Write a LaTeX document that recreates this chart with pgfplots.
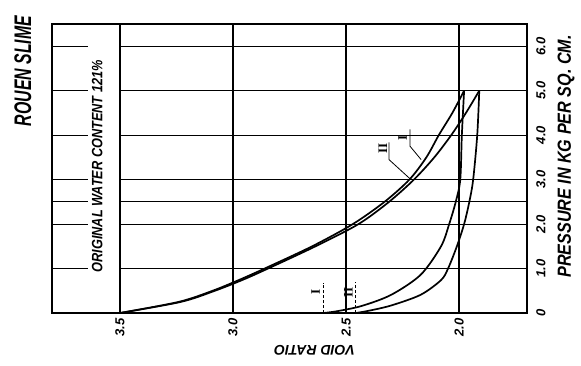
\documentclass[border=0pt]{standalone}
\usepackage{pgfplots}
\pgfplotsset{compat=1.18}
\usepackage{fontspec}
\setmainfont{Liberation Sans}
\newfontfamily\serifnum{Liberation Serif}
\begin{document}
\begin{tikzpicture}
\useasboundingbox (-52pt,-52pt) rectangle (529pt,313pt);
\begin{axis}[
  at={(0,0)}, anchor=south west,
  scale only axis, width=475pt, height=289pt,
  x dir=reverse, xmin=1.7, xmax=3.8, ymin=0, ymax=6.5,
  clip=false,
  axis line style={line width=1.6pt},
  xtick={2,2.5,3,3.5}, xticklabels={2.0,2.5,3.0,3.5},
  ytick={0,1,2,3,4,5,6}, yticklabels={0,1.0,2.0,3.0,4.0,5.0,6.0},
  yticklabel pos=right,
  major tick length=0pt,
  /pgf/number format/assume math mode=true,
  ticklabel style={font=\fontsize{13}{13}\selectfont\bfseries\itshape},
  xticklabel style={rotate=90, anchor=east, inner sep=5pt},
  yticklabel style={rotate=90, anchor=north, inner sep=9pt},
]
% grid
\pgfplotsinvokeforeach{3.5,3.0,2.5,2.0}{\draw[line width=1.3pt] (axis cs:#1,0) -- (axis cs:#1,6.5);}
\pgfplotsinvokeforeach{1,2,2.5,3,4,5,6}{%
  \draw[line width=1.1pt] (axis cs:3.5,#1) -- (axis cs:1.7,#1);
  \draw[line width=1.1pt] (axis cs:3.8,#1) -- (axis cs:3.64,#1);}
% loading curve I
\addplot[line width=1.7pt, smooth, tension=0.5] coordinates {
(3.50,0) (3.24,0.25) (3.09,0.5) (2.97,0.75) (2.86,1.0) (2.65,1.5) (2.47,2.0)
(2.33,2.5) (2.22,3.0) (2.145,3.5) (2.09,4.0) (2.03,4.5) (1.978,5.0)};
% loading curve II
\addplot[line width=1.7pt, smooth, tension=0.5] coordinates {
(3.50,0) (3.23,0.25) (3.08,0.5) (2.955,0.75) (2.845,1.0) (2.635,1.5) (2.445,2.0)
(2.31,2.5) (2.20,3.0) (2.11,3.5) (2.035,4.0) (1.97,4.5) (1.911,5.0)};
% unloading curve I
\addplot[line width=1.7pt, smooth, tension=0.5] coordinates {
(1.978,5.0) (1.988,4.0) (1.995,3.0) (2.015,2.5) (2.044,2.0) (2.08,1.5)
(2.17,0.86) (2.30,0.41) (2.43,0.16) (2.54,0.04) (2.60,0)};
% unloading curve II
\addplot[line width=1.7pt, smooth, tension=0.5] coordinates {
(1.911,5.0) (1.92,4.0) (1.938,3.0) (1.955,2.5) (1.978,2.0) (2.01,1.5) (2.049,1.0)
(2.08,0.74) (2.17,0.41) (2.30,0.17) (2.40,0.05) (2.457,0)};
% markers
\draw[densely dashed, line width=0.9pt] (axis cs:2.60,0) -- (axis cs:2.60,0.68);
\draw[densely dashed, line width=0.9pt] (axis cs:2.457,0) -- (axis cs:2.457,0.70);
\node[rotate=90, font=\serifnum\bfseries\fontsize{13}{13}\selectfont] at (axis cs:2.634,0.47) {I};
\node[rotate=90, font=\serifnum\bfseries\fontsize{13}{13}\selectfont] at (axis cs:2.49,0.47) {II};
\node[rotate=90, font=\serifnum\bfseries\fontsize{13}{13}\selectfont] at (axis cs:2.25,3.93) {I};
\draw[line width=0.8pt] (axis cs:2.217,4.13) -- (axis cs:2.217,3.75) -- (axis cs:2.168,3.45);
\node[rotate=90, font=\serifnum\bfseries\fontsize{13}{13}\selectfont] at (axis cs:2.337,3.70) {II};
\draw[line width=0.8pt] (axis cs:2.31,3.84) -- (axis cs:2.31,3.45) -- (axis cs:2.213,3.0);
% texts
\node[rotate=90, font=\fontsize{15}{15}\selectfont\bfseries\itshape] at (axis cs:3.60,3.30) {\scalebox{0.85}[1]{ORIGINAL WATER CONTENT 121\%}};
\node[rotate=90, font=\fontsize{24}{24}\selectfont\bfseries\itshape] at (axis cs:3.929,5.44) {\scalebox{0.66}[1]{ROUEN SLIME}};
\node[rotate=90, font=\fontsize{19}{19}\selectfont\bfseries\itshape] at (axis cs:1.527,3.52) {\scalebox{0.85}[1]{PRESSURE IN KG PER SQ. CM.}};
\node[rotate=180, font=\fontsize{14}{14}\selectfont\bfseries\itshape] at (axis cs:2.639,-0.835) {VOID RATIO};
\end{axis}
\end{tikzpicture}
\end{document}
